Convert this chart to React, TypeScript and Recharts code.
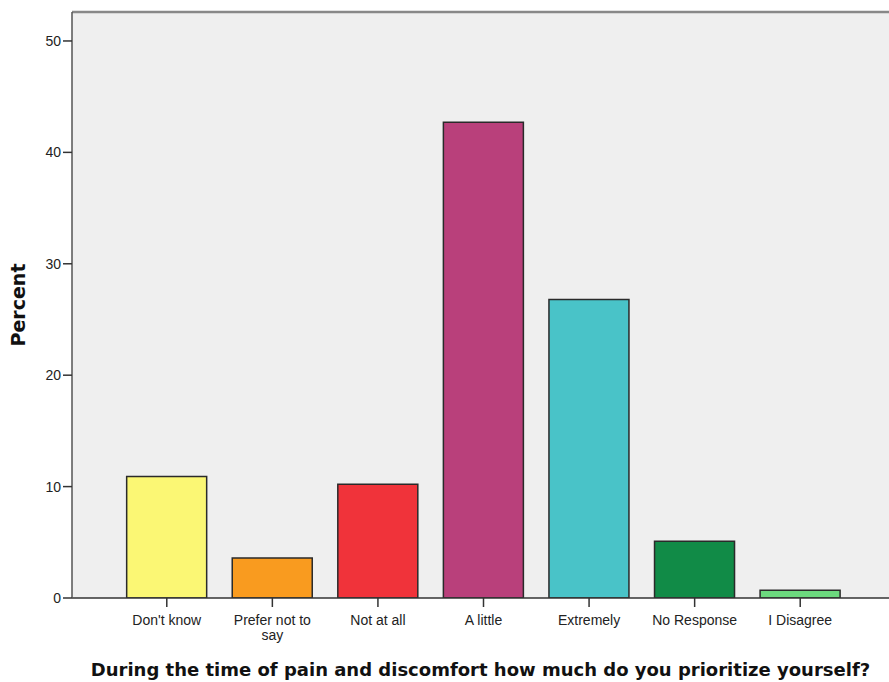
import React from "react";
import { BarChart, Bar, XAxis, YAxis, Cell, CartesianGrid, ReferenceLine, Label } from "recharts";

const categories = ["Don't know", "Prefer not to say", "Not at all", "A little", "Extremely", "No Response", "I Disagree"];
const percents = [10.9, 3.6, 10.2, 42.7, 26.8, 5.1, 0.7];
const colors = ["#FBF774", "#F99B1F", "#F0333A", "#B9407B", "#49C3C8", "#118B47", "#6CD97E"];
const yTicks = [0, 10, 20, 30, 40, 50];
const yMax = 52.6;

const data = categories.map((c, i) => ({ name: c, value: percents[i] }));

const wrapLabel = (s: string): string[] => (s === "Prefer not to say" ? ["Prefer not to", "say"] : [s]);

const XTick = (props: any) => {
  const { x, y, payload } = props;
  const lines = wrapLabel(payload.value);
  return (
    <g>
      {lines.map((l, i) => (
        <text key={i} x={x} y={y + 16 + i * 15} textAnchor="middle" fontFamily="Liberation Sans, Arial, sans-serif" fontSize={14} fill="#222">
          {l}
        </text>
      ))}
    </g>
  );
};

export default function App() {
  return (
    <div style={{ position: "absolute", left: 0, top: 0, width: 889, height: 682, background: "#fff" }}>
      <BarChart width={889} height={682} data={data} margin={{ top: 12, right: 0, left: 0, bottom: 0 }} barCategoryGap="12%">
        <CartesianGrid fill="#EFEFEF" horizontal={false} vertical={false} />
        <XAxis
          dataKey="name"
          interval={0}
          padding={{ left: 42, right: 36 }}
          tick={<XTick />}
          tickSize={9}
          axisLine={{ stroke: "#333", strokeWidth: 1.5 }}
          tickLine={{ stroke: "#333", strokeWidth: 1.5 }}
          height={84}
        >
          <Label
            value="During the time of pain and discomfort how much do you prioritize yourself?"
            position="insideBottom"
            offset={6}
            style={{ fontFamily: "DejaVu Sans, sans-serif", fontWeight: "bold", fontSize: 18, fill: "#111" }}
          />
        </XAxis>
        <YAxis
          width={72}
          domain={[0, yMax]}
          ticks={yTicks}
          allowDataOverflow
          tickSize={9}
          axisLine={{ stroke: "#555", strokeWidth: 1.5 }}
          tickLine={{ stroke: "#333", strokeWidth: 1.5 }}
          tick={{ fontFamily: "Liberation Sans, Arial, sans-serif", fontSize: 14, fill: "#222" }}
        >
          <Label
            value="Percent"
            angle={-90}
            position="insideLeft"
            offset={18}
            style={{ fontFamily: "DejaVu Sans, sans-serif", fontWeight: "bold", fontSize: 19, fill: "#111", textAnchor: "middle" }}
          />
        </YAxis>
        <ReferenceLine y={yMax} stroke="#888" strokeWidth={2.5} />
        <Bar dataKey="value" isAnimationActive={false} stroke="#2a2a2a" strokeWidth={1.5}>
          {data.map((d, i) => (
            <Cell key={d.name} fill={colors[i]} />
          ))}
        </Bar>
      </BarChart>
    </div>
  );
}
